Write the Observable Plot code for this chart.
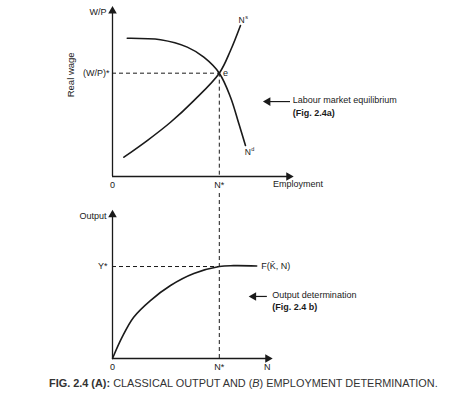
<!DOCTYPE html>
<html>
<head>
<meta charset="utf-8">
<script src="https://cdn.jsdelivr.net/npm/d3@7"></script>
<script src="https://cdn.jsdelivr.net/npm/@observablehq/plot@0.6"></script>
<style>
  body { margin: 0; background: #fff; }
  #chart { width: 471px; }
  #chart svg { display: block; }
  .cap { font-family: "Liberation Sans", Arial, sans-serif; font-size: 10.9px; color: #333; text-align: left; padding-left: 49px; margin-top: 5px; white-space: nowrap; }
</style>
</head>
<body>
<div id="chart"></div>
<script>
// ---- data ----
const nStar = 6;          // equilibrium employment N*
const wpStar = 6.15;      // equilibrium real wage (W/P)*
const yStar = 6.3;        // equilibrium output Y*
const nsX = [0.64, 1.95, 3.26, 4.57, 6.0, 6.63, 7.19];
const nsY = [1.15, 2.14, 3.23, 4.52, 6.15, 7.5, 8.99];
const ndX = [0.83, 2.70, 4.20, 5.13, 6.0, 6.63, 7.10, 7.47];
const ndY = [8.23, 8.14, 7.70, 7.10, 6.15, 4.72, 3.14, 1.85];
const fX = [0, 0.54, 1.19, 2.13, 3.26, 4.57, 6.0, 6.8, 8.1];
const fY = [0, 1.46, 2.83, 3.97, 5.0, 5.82, 6.3, 6.36, 6.34];
const xAxisEndTop = 10, xAxisEndBottom = 8.82, yAxisTop = 9.85;

const ns = nsX.map((x, i) => ({x, y: nsY[i]}));
const nd = ndX.map((x, i) => ({x, y: ndY[i]}));
const fn = fX.map((x, i) => ({x, y: fY[i]}));

const font = "Liberation Sans, Arial, sans-serif";
const ink = "#1a1a1a";

function tri(x, y, rotate) {
  return Plot.dot([{x, y}], {x: "x", y: "y", symbol: "triangle", r: 3.2, fill: ink, stroke: "none", rotate});
}
function lab(text, x, y, opts = {}) {
  return Plot.text([{x, y}], {x: "x", y: "y", text: () => text, fill: ink, fontSize: 9, ...opts});
}

const topPanel = Plot.plot({
  width: 471, height: 192,
  marginLeft: 112, marginRight: 181, marginTop: 8, marginBottom: 16,
  x: {domain: [0, 10], axis: null},
  y: {domain: [0, 10], axis: null},
  style: {fontFamily: font, background: "white"},
  marks: [
    Plot.ruleX([0], {y1: 0, y2: yAxisTop, stroke: ink, strokeWidth: 1.3}),
    Plot.ruleY([0], {x1: 0, x2: xAxisEndTop - 0.15, stroke: ink, strokeWidth: 1.3}),
    tri(0, yAxisTop, 0),
    tri(xAxisEndTop - 0.1, 0, 90),
    Plot.ruleY([wpStar], {x1: 0, x2: nStar, stroke: ink, strokeDasharray: "4,3", strokeWidth: 1}),
    Plot.ruleX([nStar], {y1: wpStar, y2: 0, stroke: ink, strokeDasharray: "4,3", strokeWidth: 1}),
    Plot.line(ns, {x: "x", y: "y", curve: "catmull-rom", stroke: ink, strokeWidth: 1.6}),
    Plot.line(nd, {x: "x", y: "y", curve: "catmull-rom", stroke: ink, strokeWidth: 1.6}),
    lab("W/P", 0, yAxisTop, {textAnchor: "end", dx: -6, dy: 1}),
    lab("(W/P)*", 0, wpStar, {textAnchor: "end", dx: -3}),
    lab("Real wage", 0, 6.05, {rotate: -90, fontSize: 9.5, dx: -42}),
    lab("0", 0, 0, {dy: 9}),
    lab("N*", nStar, 0, {dy: 9}),
    lab("Employment", 9.02, 0, {dy: 8, textAnchor: "start"}),
    lab("e", 6.35, 6.13, {fontSize: 9}),
    lab("N", 7.25, 9.3, {fontSize: 8.5}),
    lab("s", 7.25, 9.3, {fontSize: 5.5, dx: 5, dy: -3}),
    lab("N", 7.6, 1.45, {fontSize: 8.5}),
    lab("d", 7.6, 1.45, {fontSize: 5.5, dx: 5, dy: -3}),
    Plot.ruleY([4.46], {x1: 8.7, x2: 10.0, stroke: ink, strokeWidth: 1.2}),
    tri(8.73, 4.46, -90),
    lab("Labour market equilibrium", 10.12, 4.52, {textAnchor: "start"}),
    lab("(Fig. 2.4a)", 10.12, 3.8, {textAnchor: "start", fontWeight: "bold"})
  ]
});

const bottomPanel = Plot.plot({
  width: 471, height: 180,
  marginLeft: 112, marginRight: 181, marginTop: 20, marginBottom: 14,
  x: {domain: [0, 10], axis: null},
  y: {domain: [0, 10], axis: null},
  style: {fontFamily: font, background: "white"},
  marks: [
    Plot.ruleX([0], {y1: 0, y2: yAxisTop, stroke: ink, strokeWidth: 1.3}),
    Plot.ruleY([0], {x1: 0, x2: xAxisEndBottom - 0.15, stroke: ink, strokeWidth: 1.3}),
    tri(0, yAxisTop, 0),
    tri(xAxisEndBottom - 0.1, 0, 90),
    Plot.ruleY([yStar], {x1: 0, x2: nStar, stroke: ink, strokeDasharray: "4,3", strokeWidth: 1}),
    Plot.ruleX([nStar], {y1: 11.3, y2: 0, stroke: ink, strokeDasharray: "4,3", strokeWidth: 1}),
    Plot.line(fn, {x: "x", y: "y", curve: "catmull-rom", stroke: ink, strokeWidth: 1.6}),
    lab("Output", 0, yAxisTop, {textAnchor: "end", dx: -6, dy: 1}),
    lab("Y*", 0, yStar, {textAnchor: "end", dx: -5}),
    lab("F(K\u0304, N)", 8.3, 6.34, {textAnchor: "start", dx: 1}),
    lab("0", 0, 0, {dy: 9}),
    lab("N*", nStar, 0, {dy: 9}),
    lab("N", 8.7, 0, {dy: 9}),
    Plot.ruleY([4.25], {x1: 7.9, x2: 8.7, stroke: ink, strokeWidth: 1.2}),
    tri(7.93, 4.25, -90),
    lab("Output determination", 8.98, 4.32, {textAnchor: "start"}),
    lab("(Fig. 2.4 b)", 8.98, 3.5, {textAnchor: "start", fontWeight: "bold"})
  ]
});

const chart = document.getElementById("chart");
chart.appendChild(topPanel);
chart.appendChild(bottomPanel);
const cap = document.createElement("div");
cap.className = "cap";
cap.innerHTML = "<b>FIG. 2.4 (A):</b> CLASSICAL OUTPUT AND (<i>B</i>) EMPLOYMENT DETERMINATION.";
chart.appendChild(cap);
</script>
</body>
</html>
